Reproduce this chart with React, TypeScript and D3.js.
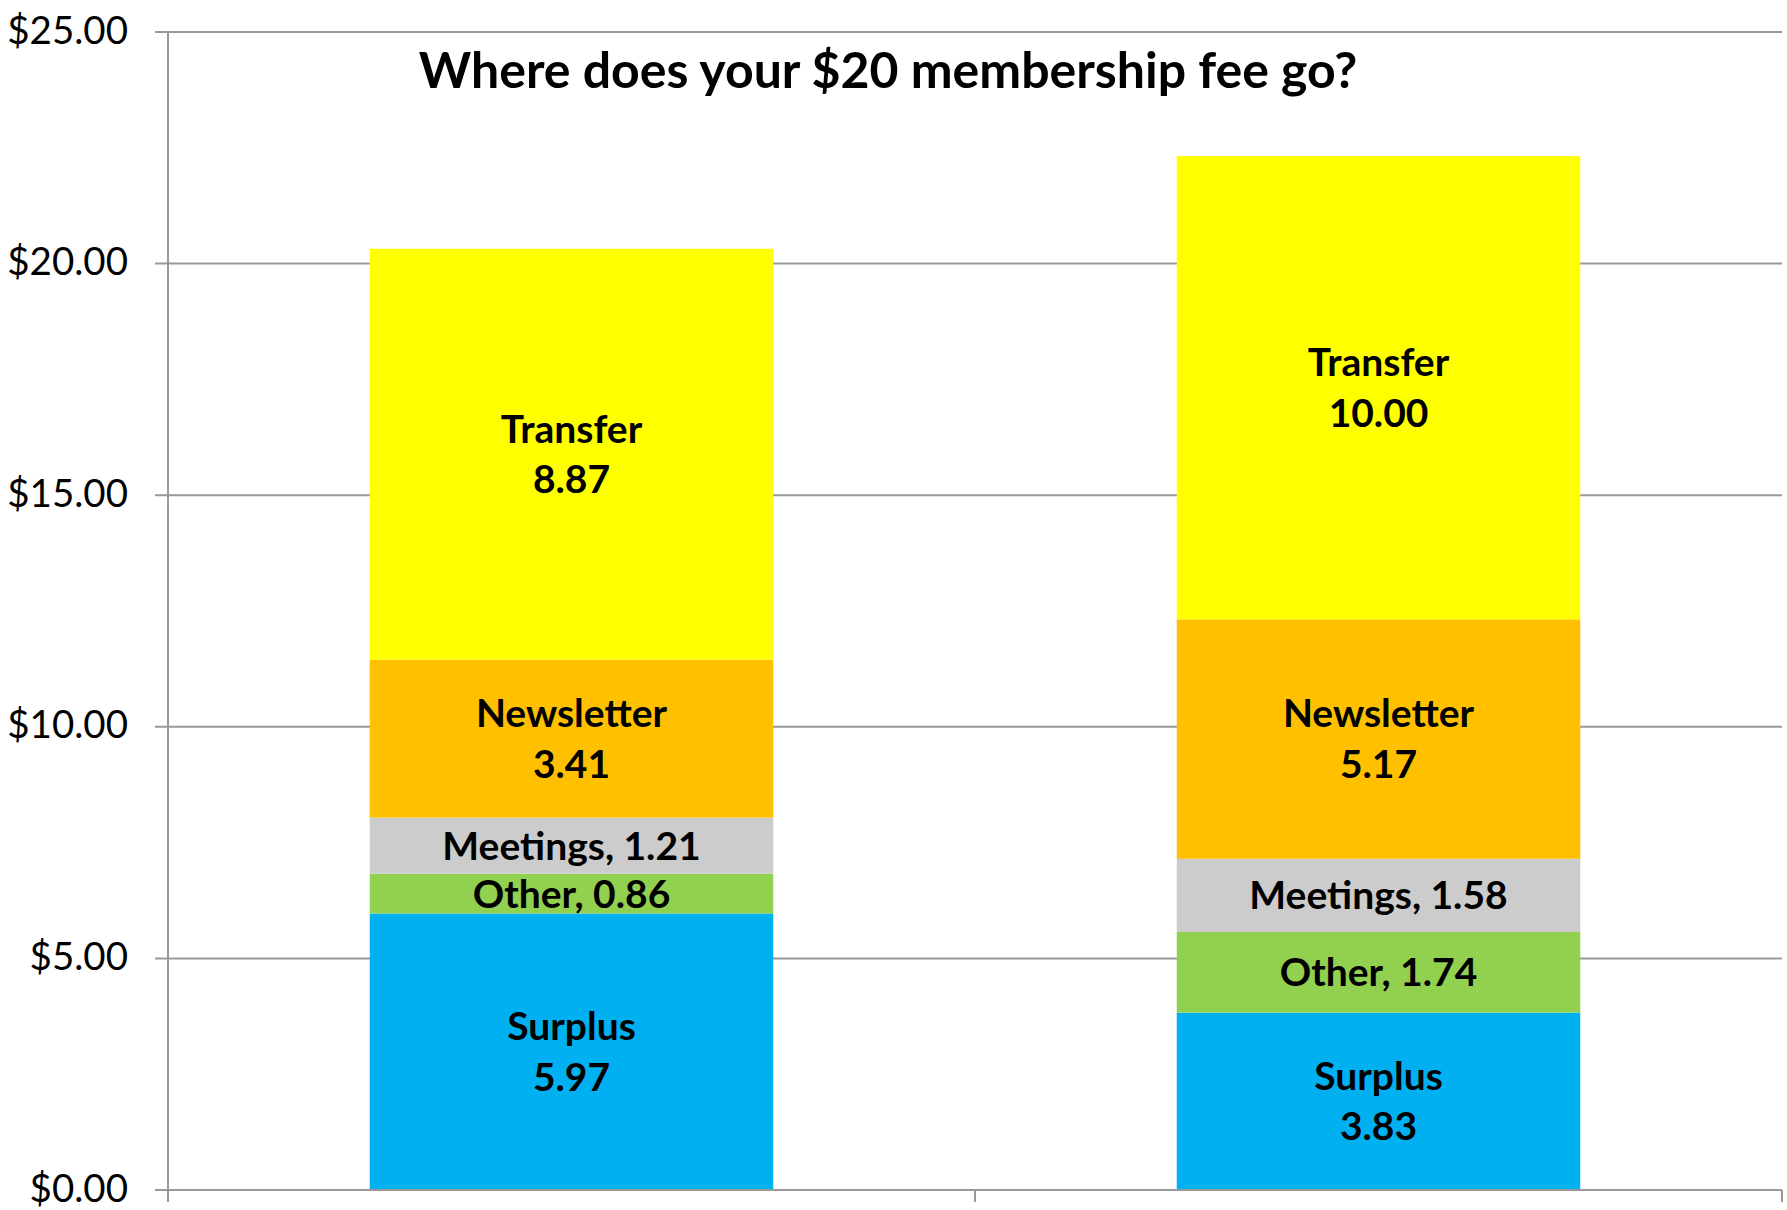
import React from "react";
import * as d3 from "d3";

const categories = ["Bar 1", "Bar 2"];
const seriesNames = ["Surplus", "Other", "Meetings", "Newsletter", "Transfer"];
const surplus = [5.97, 3.83];
const other = [0.86, 1.74];
const meetings = [1.21, 1.58];
const newsletter = [3.41, 5.17];
const transfer = [8.87, 10.0];
const yTicks = [0, 5, 10, 15, 20, 25];
const twoLineSeries = ["Surplus", "Newsletter", "Transfer"];
const title = "Where does your $20 membership fee go?";

const colors: Record<string, string> = {
  Surplus: "#00B0F0",
  Other: "#92D050",
  Meetings: "#CCCCCC",
  Newsletter: "#FFC000",
  Transfer: "#FFFF00",
};

const W = 1787;
const H = 1210;
const left = 168;
const right = 1782;
const top = 32;
const bottom = 1190;
const FONT = "Lato, 'Open Sans', sans-serif";

export default function App() {
  const rows = categories.map((c, i) => ({
    cat: c,
    Surplus: surplus[i],
    Other: other[i],
    Meetings: meetings[i],
    Newsletter: newsletter[i],
    Transfer: transfer[i],
  }));
  const stack = d3.stack<any>().keys(seriesNames)(rows);
  const x = d3.scaleBand().domain(categories).range([left, right]).paddingInner(0.5).paddingOuter(0.25);
  const y = d3.scaleLinear().domain([0, 25]).range([bottom, top]);
  const fmt = d3.format("$.2f");
  const step = x.step();

  return (
    <svg width={W} height={H} style={{ position: "absolute", left: 0, top: 0, background: "#fff" }}>
      {yTicks.map((t) => (
        <g key={t}>
          <line x1={155} x2={right} y1={y(t)} y2={y(t)} stroke="#999" strokeWidth={2} />
          <text x={128} y={y(t)} dy="0.3em" textAnchor="end" fontFamily={FONT} fontSize={38.5} fill="#000">
            {fmt(t)}
          </text>
        </g>
      ))}
      {stack.map((s) =>
        s.map((d, i) => {
          const cat = categories[i];
          const x0 = x(cat) as number;
          const y0 = y(d[1]);
          const h = y(d[0]) - y(d[1]);
          const cx = x0 + x.bandwidth() / 2;
          const cy = y0 + h / 2;
          const val = (d[1] - d[0]).toFixed(2);
          const two = twoLineSeries.includes(s.key);
          return (
            <g key={s.key + cat}>
              <rect x={x0} y={y0} width={x.bandwidth()} height={h} fill={colors[s.key]} />
              {two ? (
                <text x={cx} y={cy} textAnchor="middle" fontFamily={FONT} fontWeight="bold" fontSize={39} fill="#000">
                  <tspan x={cx} dy="-0.3em">{s.key}</tspan>
                  <tspan x={cx} dy="1.3em">{val}</tspan>
                </text>
              ) : (
                <text x={cx} y={cy} dy="0.36em" textAnchor="middle" fontFamily={FONT} fontWeight="bold" fontSize={39} fill="#000">
                  {s.key + ", " + val}
                </text>
              )}
            </g>
          );
        })
      )}
      <line x1={left} x2={left} y1={top} y2={1202} stroke="#999" strokeWidth={2} />
      <line x1={left} x2={right} y1={bottom} y2={bottom} stroke="#999" strokeWidth={2} />
      {[left, left + step, left + 2 * step].map((tx, i) => (
        <line key={i} x1={tx} x2={tx} y1={bottom} y2={1202} stroke="#999" strokeWidth={2} />
      ))}
      <text x={888} y={88} textAnchor="middle" fontFamily={FONT} fontWeight="bold" fontSize={50} fill="#000">
        {title}
      </text>
    </svg>
  );
}
